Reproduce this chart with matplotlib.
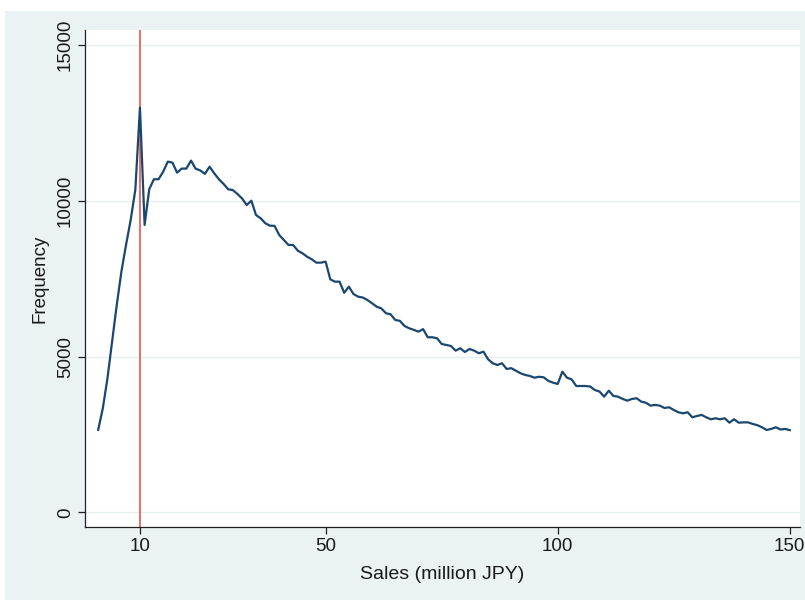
import matplotlib
matplotlib.use("Agg")
import matplotlib.pyplot as plt
from matplotlib.patches import Rectangle
from matplotlib import font_manager

sales = list(range(1, 151))
frequency = [
    2650, 3343, 4306, 5483, 6660, 7730, 8587, 9390, 10354, 13000,
    9230, 10375, 10697, 10697, 10940, 11262, 11230, 10910, 11040, 11040,
    11295, 11035, 10980, 10870, 11100, 10890, 10697, 10550, 10375, 10350,
    10225, 10080, 9870, 10010, 9550, 9444, 9284, 9207, 9200, 8908,
    8748, 8587, 8587, 8404, 8320, 8211, 8128, 8019, 8019, 8051,
    7485, 7408, 7408, 7052, 7248, 7013, 6927, 6900, 6820, 6715,
    6605, 6550, 6394, 6360, 6178, 6150, 5985, 5912, 5860, 5803,
    5885, 5623, 5623, 5590, 5408, 5375, 5343, 5193, 5270, 5150,
    5247, 5193, 5109, 5160, 4916, 4788, 4733, 4788, 4605, 4630,
    4550, 4466, 4412, 4380, 4325, 4355, 4335, 4220, 4165, 4123,
    4518, 4325, 4270, 4058, 4058, 4058, 4040, 3930, 3880, 3715,
    3908, 3738, 3715, 3642, 3587, 3642, 3665, 3555, 3520, 3427,
    3450, 3427, 3352, 3375, 3288, 3214, 3180, 3214, 3053, 3095,
    3130, 3053, 2990, 3020, 2990, 3020, 2880, 2990, 2880, 2890,
    2890, 2840, 2800, 2733, 2646, 2680, 2733, 2660, 2680, 2640,
]
threshold = 10
x_ticks = [10, 50, 100, 150]
y_ticks = [0, 5000, 10000, 15000]

names = {f.name for f in font_manager.fontManager.ttflist}
fam = "Liberation Sans Narrow" if "Liberation Sans Narrow" in names else "Liberation Sans"
plt.rcParams["font.family"] = [fam, "DejaVu Sans"]

W, H = 805, 600
fig = plt.figure(figsize=(W / 100, H / 100), dpi=100, facecolor="white")
bg = "#EAF2F3"
rect = Rectangle((5 / W, 0), 1, 1 - 11 / H, transform=fig.transFigure,
                 facecolor=bg, edgecolor="none", zorder=-10)
fig.add_artist(rect)

ax = fig.add_axes([85 / W, 1 - 527 / H, (800 - 85) / W, (527 - 30) / H])
ax.set_zorder(5)
ax.set_facecolor("white")
ax.set_xlim(-1.84, 152.2)
ax.set_ylim(-470, 15490)

for yv in y_ticks:
    ax.axhline(yv, color="#E6EEEF", lw=1.0, zorder=1)

ax.axvline(threshold, color="#E8473C", lw=1.1, zorder=2)
ax.plot(sales, frequency, color="#1A476F", lw=1.6, zorder=3)

ax.set_xticks(x_ticks)
ax.set_yticks(y_ticks)
ax.set_yticklabels([str(v) for v in y_ticks], rotation=90, va="center")
ax.tick_params(axis="both", direction="out", length=5, width=0.9, color="#222222",
               labelsize=13.5, labelcolor="#1a1a1a", pad=3)
for s in ["top", "right"]:
    ax.spines[s].set_visible(False)
for s in ["left", "bottom"]:
    ax.spines[s].set_color("#222222")
    ax.spines[s].set_linewidth(0.9)

ax.set_xlabel("Sales (million JPY)", fontsize=14, color="#1a1a1a", labelpad=8)
ax.set_ylabel("Frequency", fontsize=13.5, color="#1a1a1a", labelpad=6)

fig.savefig("out.png", dpi=100, facecolor=fig.get_facecolor())
